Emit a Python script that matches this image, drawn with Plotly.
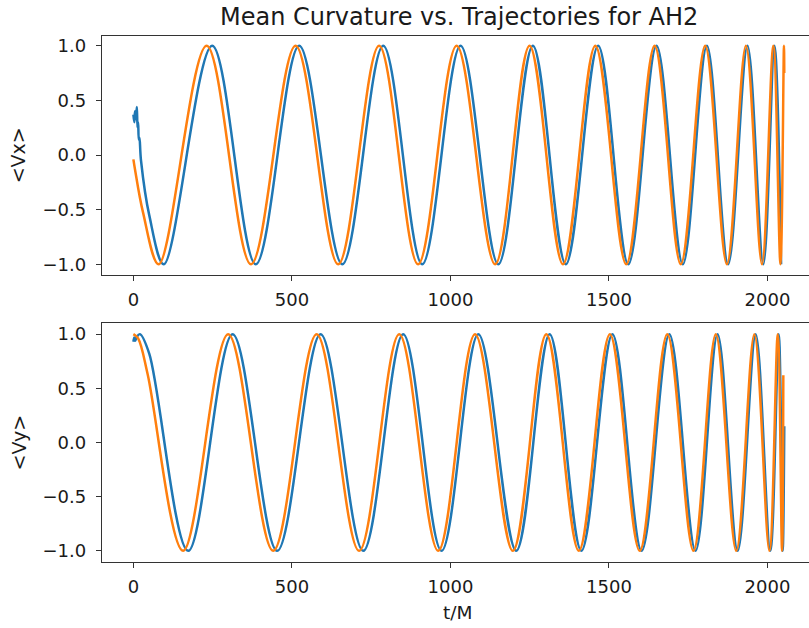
import plotly.graph_objects as go

# ---------------- data ----------------
# <Vx>, blue series: noisy start, then the extrema of the oscillation
vx_blue_t = [0, 3, 5, 8, 11, 13, 15, 17, 19, 24, 50,
             96, 248.6, 386, 523, 659, 788, 911, 1032, 1151, 1260, 1364, 1466,
             1561, 1650, 1733, 1809, 1876, 1937, 1987, 2022, 2043]
vx_blue_v = [0.37, 0.30, 0.40, 0.33, 0.44, 0.25, 0.30, 0.14, 0.16, -0.05, -0.55,
             -1, 1, -1, 1, -1, 1, -1, 1, -1, 1, -1, 1,
             -1, 1, -1, 1, -1, 1, -1, 1, -1]

# <Vx>, orange series
vx_orange_t = [0, 5, 30,
               80, 231, 371, 511.5, 646, 775, 898, 1019.6, 1141, 1249.5, 1355, 1457,
               1554.6, 1644, 1726.5, 1803.5, 1872, 1932, 1982.6, 2018.6, 2041, 2052, 2053]
vx_orange_v = [-0.04, -0.13, -0.52,
               -1, 1, -1, 1, -1, 1, -1, 1, -1, 1, -1, 1,
               -1, 1, -1, 1, -1, 1, -1, 1, -1, 1, 0.75]

# <Vy>, blue series
vy_blue_t = [0, 3, 6, 10, 20.5, 50,
             173, 313, 453.6, 590.5, 725, 851, 972, 1088, 1207.6, 1313, 1413, 1511,
             1603, 1690.5, 1773, 1842.6, 1906, 1963, 2009, 2035.6, 2048, 2053]
vy_blue_v = [0.93, 0.97, 0.94, 0.97, 1.0, 0.82,
             -1, 1, -1, 1, -1, 1, -1, 1, -1, 1, -1, 1,
             -1, 1, -1, 1, -1, 1, -1, 1, -1, 0.15]

# <Vy>, orange series
vy_orange_t = [0, 15, 45,
               157, 299, 441, 578, 712, 838.5, 961.5, 1077.6, 1197, 1302.5, 1405, 1503,
               1597, 1684, 1766.6, 1837, 1901.6, 1958.7, 2006, 2032.5, 2046, 2050]
vy_orange_v = [1.0, 0.96, 0.63,
               -1, 1, -1, 1, -1, 1, -1, 1, -1, 1, -1, 1,
               -1, 1, -1, 1, -1, 1, -1, 1, -1, 0.62]

x_ticks = [0, 500, 1000, 1500, 2000]
y_ticks = [-1.0, -0.5, 0.0, 0.5, 1.0]
y_tick_text = ["\u22121.0", "\u22120.5", "0.0", "0.5", "1.0"]

title_text = "Mean Curvature vs. Trajectories for AH2"
xlabel = "t/M"
ylabel_top = "&lt;Vx&gt;"
ylabel_bottom = "&lt;Vy&gt;"

BLUE = "#1f77b4"
ORANGE = "#ff7f0e"

# ---------------- figure ----------------
W, H = 809, 628
FONT = "DejaVu Sans"
TXT = "#1a1a1a"

fig = go.Figure()

def add(t, v, color, axis):
    fig.add_trace(go.Scatter(
        x=t, y=v, mode="lines",
        line=dict(color=color, width=2.5, shape="spline", smoothing=1.0),
        xaxis="x" if axis == 1 else "x2",
        yaxis="y" if axis == 1 else "y2",
        showlegend=False, hoverinfo="skip"))

add(vx_blue_t, vx_blue_v, BLUE, 1)
add(vx_orange_t, vx_orange_v, ORANGE, 1)
add(vy_blue_t, vy_blue_v, BLUE, 2)
add(vy_orange_t, vy_orange_v, ORANGE, 2)

left_px = 102
x_dom = [left_px / W, 1.0]
top_px = (35.7, 275.0)
bot_px = (323.3, 561.7)
top_dom = [1 - top_px[1] / H, 1 - top_px[0] / H]
bot_dom = [1 - bot_px[1] / H, 1 - bot_px[0] / H]

tickfont = dict(family=FONT, size=18, color=TXT)

xcommon = dict(
    range=[-99, 2131], tickvals=x_ticks, ticks="outside", ticklen=5, tickwidth=1.3,
    tickcolor="#333", showline=True, linecolor="#333", linewidth=1.4, mirror=True,
    showgrid=False, zeroline=False, tickfont=tickfont, automargin=False,
    ticklabelstandoff=3,
)
ycommon = dict(
    tickvals=y_ticks, ticktext=y_tick_text, ticks="outside", ticklen=5, tickwidth=1.3,
    tickcolor="#333", showline=True, linecolor="#333", linewidth=1.4, mirror=False,
    showgrid=False, zeroline=False, tickfont=tickfont, automargin=False,
    ticklabelstandoff=6,
)

def px_ann(text, x, y, size, angle=0):
    return dict(text=text, xref="paper", yref="paper", x=x / W, y=1 - y / H,
                xanchor="center", yanchor="middle", showarrow=False, textangle=angle,
                font=dict(family=FONT, size=size, color=TXT))

fig.update_layout(
    width=W, height=H,
    margin=dict(l=0, r=0, t=0, b=0, pad=0),
    paper_bgcolor="white", plot_bgcolor="white",
    font=dict(family=FONT, color=TXT),
    xaxis=dict(domain=x_dom, anchor="y", **xcommon),
    yaxis=dict(domain=top_dom, anchor="x", range=[-1.098, 1.092], **ycommon),
    xaxis2=dict(domain=x_dom, anchor="y2", **xcommon),
    yaxis2=dict(domain=bot_dom, anchor="x2", range=[-1.10, 1.10], **ycommon),
    annotations=[
        px_ann(title_text, 459, 17, 24),
        px_ann(ylabel_top, 18, (top_px[0] + top_px[1]) / 2, 19, -90),
        px_ann(ylabel_bottom, 18, (bot_px[0] + bot_px[1]) / 2, 19, -90),
        px_ann(xlabel, 457, 612, 18.5),
    ],
)

fig.write_html("out.html", config={"displayModeBar": False},
               post_script="document.body.style.margin='0px';")
